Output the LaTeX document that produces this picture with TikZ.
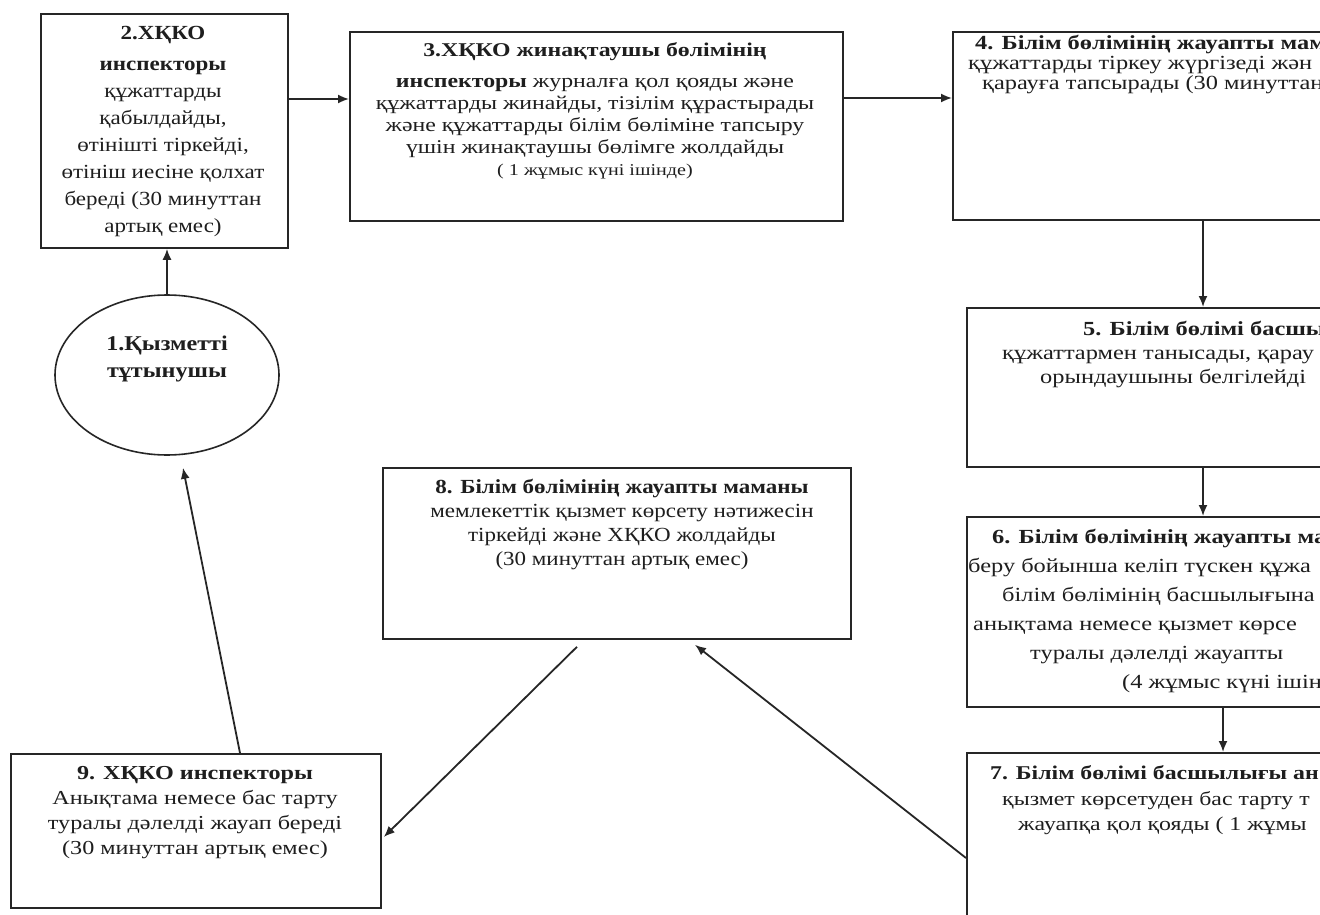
\documentclass[tikz,border=0pt]{standalone}
\usepackage{fontspec}
\setmainfont{Liberation Serif}
\newfontfamily\boxfont[FakeStretch=1.15]{Liberation Serif}
\newfontfamily\widefont[FakeStretch=1.22]{Liberation Serif}
\usetikzlibrary{arrows.meta,calc,shapes.geometric}
\definecolor{ink}{HTML}{1E1E1E}
\definecolor{rule}{HTML}{262626}
\tikzset{
  box/.style={draw=rule, line width=1.8pt, rectangle, inner sep=0pt, anchor=north west, fill=none},
  oval/.style={draw=rule, line width=1.6pt, ellipse, inner sep=0pt},
  txt/.style={inner sep=0pt, text=ink, align=center, anchor=north, font=\boxfont\fontsize{20}{27}\selectfont},
  ltxt/.style={inner sep=0pt, text=ink, anchor=base west, font=\widefont\fontsize{20}{24}\selectfont},
  arr/.style={draw=rule, line width=1.8pt, -{Latex[length=11pt,width=9pt]}},
}
\begin{document}
\begin{tikzpicture}[x=1pt,y=-1pt]
\useasboundingbox (0,0) rectangle (1320,915);
\clip (0,0) rectangle (1320,915);
\fill[white] (0,0) rectangle (1320,915);

% boxes
\node[box, minimum width=247pt, minimum height=234pt] (b2) at (40,13) {};
\node[box, minimum width=493pt, minimum height=189pt] (b3) at (349,31) {};
\node[box, minimum width=420pt, minimum height=188pt] (b4) at (952,31) {};
\node[box, minimum width=420pt, minimum height=159pt] (b5) at (966,307) {};
\node[box, minimum width=420pt, minimum height=190pt] (b6) at (966,516) {};
\node[box, minimum width=420pt, minimum height=200pt] (b7) at (966,752) {};
\node[box, minimum width=468pt, minimum height=171pt] (b8) at (382,467) {};
\node[box, minimum width=370pt, minimum height=154pt] (b9) at (10,753) {};
\node[oval, minimum width=224pt, minimum height=160pt] (e1) at (167,375) {};

% texts
\node[txt] (t2) at (163,26) {\textbf{2.ХҚКО}\\[4pt]\textbf{инспекторы}\\құжаттарды\\қабылдайды,\\өтінішті тіркейді,\\өтініш иесіне қолхат\\береді (30 минуттан\\артық емес)};
\node[txt, font=\widefont\fontsize{19.5}{22}\selectfont] (t3) at (595,42) {\textbf{3.ХҚКО жинақтаушы бөлімінің}\\[9pt]\textbf{инспекторы} журналға қол қояды және\\құжаттарды жинайды, тізілім құрастырады\\және құжаттарды білім бөліміне тапсыру\\үшін жинақтаушы бөлімге жолдайды\\{\fontsize{16.5}{19}\selectfont ( 1 жұмыс күні ішінде)}};
\node[txt, font=\boxfont\fontsize{20}{24}\selectfont] (t8) at (622,479) {\textbf{8. Білім бөлімінің жауапты маманы}\\мемлекеттік қызмет көрсету нәтижесін\\тіркейді және ХҚКО жолдайды\\(30 минуттан артық емес)};
\node[txt, font=\widefont\fontsize{19.8}{25}\selectfont] (t9) at (195,766) {\textbf{9. ХҚКО инспекторы}\\Анықтама немесе бас тарту\\туралы дәлелді жауап береді\\(30 минуттан артық емес)};
\node[txt, font=\boxfont\fontsize{21}{27}\selectfont] (t1) at (167,336) {\textbf{1.Қызметті}\\\textbf{тұтынушы}};

% right column, running past the edge
\node[ltxt] (t4a) at (975,50) {\textbf{4. Білім бөлімінің жауапты мам}};
\node[ltxt] (t4b) at (968,70) {құжаттарды тіркеу жүргізеді жән};
\node[ltxt] (t4c) at (982,90) {қарауға тапсырады (30 минуттан};
\node[ltxt] (t5a) at (1083,335) {\textbf{5. Білім бөлімі басшы}};
\node[ltxt] (t5b) at (1002,359) {құжаттармен танысады, қарау т};
\node[ltxt] (t5c) at (1040,383) {орындаушыны белгілейді};
\node[ltxt] (t6a) at (992,543) {\textbf{6. Білім бөлімінің жауапты ма}};
\node[ltxt] (t6b) at (968,572) {беру бойынша келіп түскен құжа};
\node[ltxt] (t6c) at (1002,601) {білім бөлімінің басшылығына};
\node[ltxt] (t6d) at (973,630) {анықтама немесе қызмет көрсе};
\node[ltxt] (t6e) at (1030,659) {туралы  дәлелді жауапты};
\node[ltxt] (t6f) at (1122,688) {(4 жұмыс күні ішін};
\node[ltxt, font=\widefont\fontsize{19.5}{24}\selectfont] (t7a) at (990,779) {\textbf{7. Білім бөлімі басшылығы ан}};
\node[ltxt, font=\widefont\fontsize{19.5}{24}\selectfont] (t7b) at (1002,805) {қызмет көрсетуден  бас тарту т};
\node[ltxt, font=\widefont\fontsize{19.5}{24}\selectfont] (t7c) at (1018,830) {жауапқа қол қояды ( 1 жұмы};

% connectors
\draw[arr] (e1.north) -- ($(b2.south west)+(127,0)$);
\draw[arr] ($(b2.north east)+(0,86)$) -- ($(b3.north west)+(0,68)$);
\draw[arr] ($(b3.north east)+(0,67)$) -- ($(b4.north west)+(0,67)$);
\draw[arr] ($(b4.south west)+(251,0)$) -- ($(b5.north west)+(237,0)$);
\draw[arr] ($(b5.south west)+(237,0)$) -- ($(b6.north west)+(237,0)$);
\draw[arr] ($(b6.south west)+(257,0)$) -- ($(b7.north west)+(257,0)$);
\draw[arr] ($(b7.north west)+(0,106)$) -- ($(b8.south west)+(313,5)$);
\draw[arr] ($(b8.south west)+(195,7)$) -- ($(b9.north east)+(2,84)$);
\draw[arr] ($(b9.north west)+(230,0)$) -- ($(e1.south)+(16,12)$);
\end{tikzpicture}
\end{document}
